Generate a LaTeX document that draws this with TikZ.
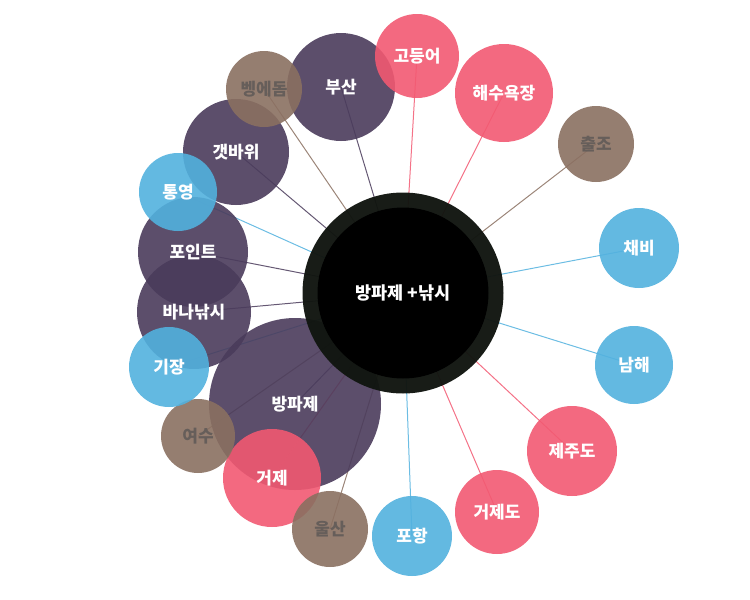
\documentclass[tikz,border=0pt]{standalone}
\usepackage{fontspec}
\newfontfamily\kr{Noto Sans CJK KR}
\definecolor{pur}{HTML}{4A3B5B}
\definecolor{pnk}{HTML}{F25972}
\definecolor{blu}{HTML}{52B1DE}
\definecolor{brn}{HTML}{8A7061}
\definecolor{ring}{HTML}{111510}
\definecolor{wtxt}{HTML}{FFFFFF}
\definecolor{gtxt}{HTML}{665E5A}
\pgfdeclarelayer{bg}
\pgfdeclarelayer{txt}
\pgfdeclarelayer{fg}
\pgfsetlayers{bg,main,fg,txt}
\tikzset{
  bub/.style={circle, inner sep=0pt, outer sep=0pt, fill opacity=0.9},
  lbl/.style={inner sep=0pt, font=\kr\bfseries\fontsize{17}{20}\selectfont},
  link/.style={line width=1pt, draw opacity=0.85}
}
\begin{document}
\begin{tikzpicture}[x=1pt,y=-1pt]
\useasboundingbox (0,0) rectangle (750,600);
\begin{pgfonlayer}{fg}
\node[circle, inner sep=0pt, fill=ring, fill opacity=0.97, minimum size=201pt] (hub) at (403,293) {};
\node[circle, inner sep=0pt, fill=black, minimum size=171pt] (hubin) at (hub.center) {};
\end{pgfonlayer}
\begin{pgfonlayer}{txt}
\node[lbl, text=white, font=\kr\bfseries\fontsize{17.5}{20}\selectfont] (hubt) at (hub.center) {방파제 +낚시};
\end{pgfonlayer}
\foreach \n/\x/\y/\r/\c/\tc/\t in {
  bangpa/295/404/86/pur/wtxt/방파제,
  point/193/252/55/pur/wtxt/포인트,
  banana/194/312/57/pur/wtxt/바나낚시,
  gaet/236/152/53/pur/wtxt/갯바위,
  busan/341/87/54/pur/wtxt/부산,
  beng/264/89/38/brn/gtxt/벵에돔,
  godeung/417/56/42/pnk/wtxt/고등어,
  haesu/504/93/49/pnk/wtxt/해수욕장,
  chuljo/596/144/38/brn/gtxt/출조,
  chaebi/639/248/40/blu/wtxt/채비,
  namhae/634/365/39/blu/wtxt/남해,
  jeju/572/451/45/pnk/wtxt/제주도,
  geojedo/497/512/42/pnk/wtxt/거제도,
  pohang/412/536/40/blu/wtxt/포항,
  geoje/272/478/49/pnk/wtxt/거제,
  yeosu/198/436/37/brn/gtxt/여수,
  ulsan/330/529/38/brn/gtxt/울산,
  gijang/169/367/40/blu/wtxt/기장,
  tongyeong/178/192/39/blu/wtxt/통영}
{
  \node[bub, fill=\c, minimum size=2*\r pt] (\n) at (\x,\y) {};
  \begin{pgfonlayer}{txt}
    \node[lbl, text=\tc] (\n-t) at (\n.center) {\t};
  \end{pgfonlayer}
  \begin{pgfonlayer}{bg}
    \draw[link, draw=\c] (\n.center) -- (hub.center);
  \end{pgfonlayer}
}
\end{tikzpicture}
\end{document}
